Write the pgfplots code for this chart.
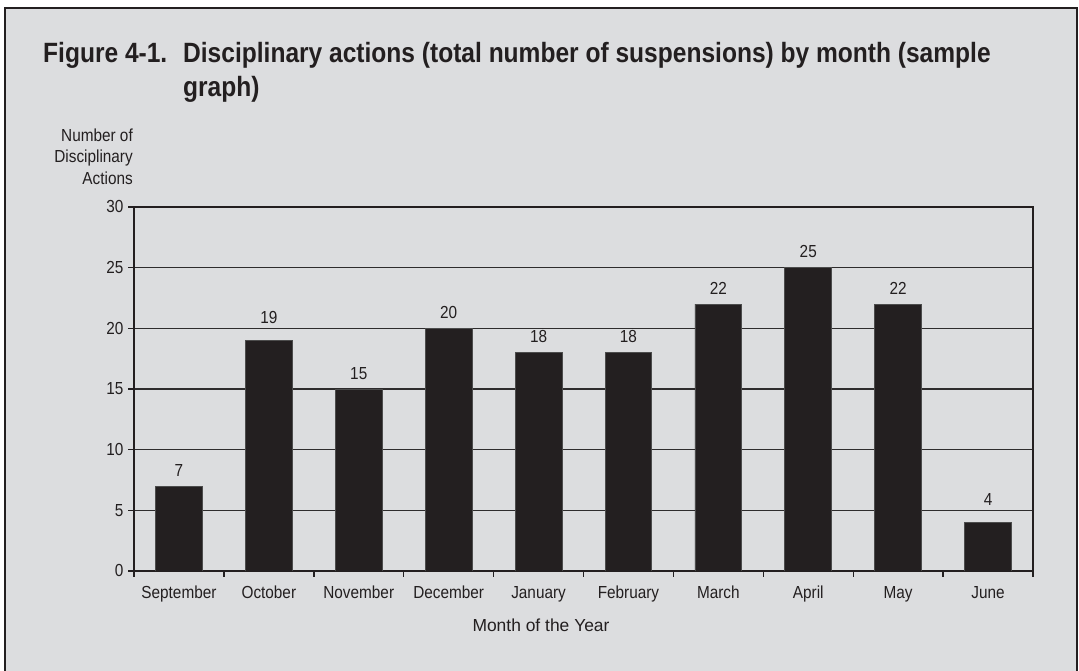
\documentclass[border=0pt]{standalone}
\usepackage{fontspec}
\setmainfont{Liberation Sans}[FakeStretch=0.88]
\newfontfamily\titlefont{Liberation Sans}[FakeStretch=0.88]
\newfontfamily\xlabfont{Liberation Sans}[FakeStretch=1.0]
\usepackage{pgfplots}
\pgfplotsset{compat=1.18}
\usetikzlibrary{backgrounds,calc}
\definecolor{bgc}{HTML}{DCDDDF}
\definecolor{framec}{HTML}{231F20}
\definecolor{barc}{HTML}{231F20}
\definecolor{gridc}{HTML}{2E2C2D}
\definecolor{textc}{HTML}{231F20}
\newcommand{\lbl}{\fontsize{17.5}{21}\selectfont}
\begin{document}
\begin{tikzpicture}
\begin{axis}[
  name=ax, at={(0,0)}, anchor=south west, scale only axis,
  width=899bp, height=364bp,
  /pgf/number format/assume math mode=true,
  ybar, bar width=0.52, bar shift=0pt,
  xmin=-0.5, xmax=9.5, ymin=0, ymax=30,
  ytick={0,5,...,30},
  xtick={0,...,9},
  xticklabels={September,October,November,December,January,February,March,April,May,June},
  minor xtick={-0.5,0.5,...,9.5},
  tick align=outside,
  xtick pos=left, ytick pos=left,
  major x tick style={draw=none},
  minor x tick style={draw=framec, line width=1.4bp},
  major y tick style={draw=framec, line width=1.4bp},
  major tick length=6bp, minor tick length=6bp,
  ymajorgrids,
  grid style={draw=gridc, line width=1.1bp},
  axis line style={draw=framec, line width=1.6bp},
  tick label style={font=\lbl, text=textc},
  yticklabel style={xshift=-1bp},
  xticklabel style={yshift=-5bp, text height=13pt, text depth=4pt},
]
\addplot[fill=barc, draw=gray!60!black, line width=0.8bp] coordinates {
 (0,7) (1,19) (2,15) (3,20) (4,18) (5,18) (6,22) (7,25) (8,22) (9,4)
};
\addplot[draw=none, fill=none, nodes near coords,
  every node near coord/.append style={font=\lbl, text=textc, yshift=6bp}] coordinates {
 (0,7) (2,15) (3,20) (4,18) (5,18) (6,22) (7,25) (8,22)
};
\addplot[draw=none, fill=none, nodes near coords,
  every node near coord/.append style={font=\lbl, text=textc, yshift=13bp}] coordinates {
 (1,19) (9,4)
};
\end{axis}
\begin{scope}[shift={(ax.south west)}, xshift=-134bp, yshift=-100bp, x=1bp, y=1bp]
% title
\node[anchor=base west, text=textc, inner sep=0] at (43,608) {\titlefont\bfseries\fontsize{28}{34}\selectfont Figure 4-1.};
\node[anchor=base west, text=textc, inner sep=0] at (183,608) {\titlefont\bfseries\fontsize{28}{34}\selectfont Disciplinary actions (total number of suspensions) by month (sample};
\node[anchor=base west, text=textc, inner sep=0] at (183,574) {\titlefont\bfseries\fontsize{28}{34}\selectfont graph)};
% y label
\node[anchor=base east, text=textc, inner sep=0] at (133,529.3) {\lbl Number of};
\node[anchor=base east, text=textc, inner sep=0] at (133,508) {\lbl Disciplinary};
\node[anchor=base east, text=textc, inner sep=0] at (133,486) {\lbl Actions};
% x label
\node[anchor=base, text=textc, inner sep=0] at (541,39.5) {\xlabfont\lbl Month of the Year};
\end{scope}
\begin{scope}[on background layer, shift={(ax.south west)}, xshift=-134bp, yshift=-100bp, x=1bp, y=1bp]
\fill[white] (0,0) rectangle (1079,671);
\filldraw[fill=bgc, draw=framec, line width=2bp] (5,-10) rectangle (1077,663);
\end{scope}
\pgfresetboundingbox
\path[use as bounding box, shift={(ax.south west)}, xshift=-134bp, yshift=-100bp, x=1bp, y=1bp] (0,0) rectangle (1079,671);
\end{tikzpicture}
\end{document}
